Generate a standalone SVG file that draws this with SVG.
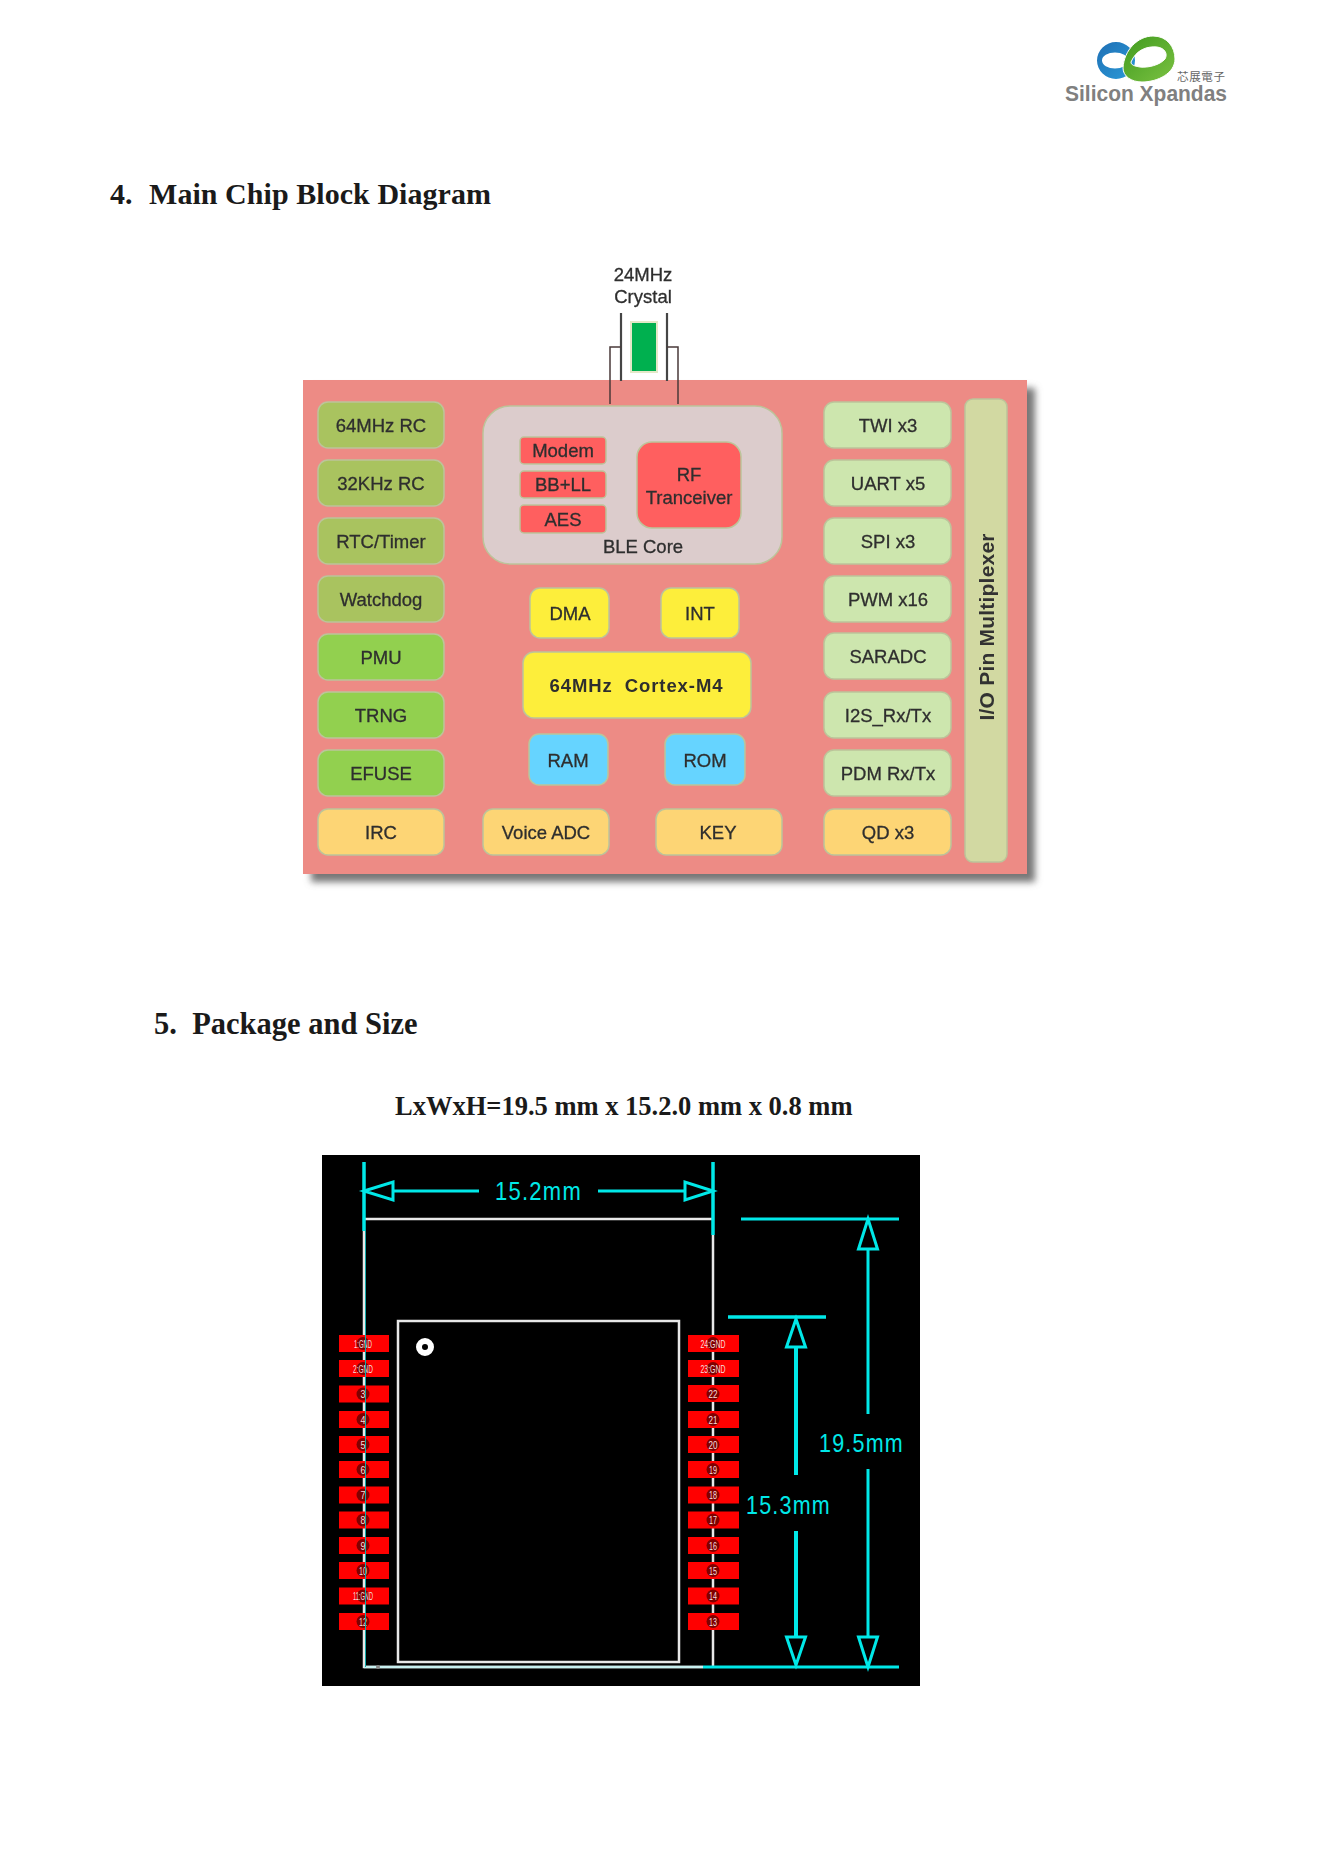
<svg xmlns="http://www.w3.org/2000/svg" width="1324" height="1872" viewBox="0 0 1324 1872">
<style>
text{font-family:"Liberation Sans",Arial,sans-serif}
.h{font-family:"Liberation Serif","Times New Roman",serif;font-weight:700;fill:#1a1a1a}
.b{stroke:#bcc49a;stroke-width:1.5}
.l{font-size:18.5px;fill:#2e2e2e;stroke:#2e2e2e;stroke-width:.3;text-anchor:middle}
.ol{fill:#a9c35f}.gr{fill:#92d050}.or{fill:#fdd574}.lg{fill:#cde6ae}.ye{fill:#fdee3b}.sk{fill:#66d4ff}.rd{fill:#ff5f5f}
.cy{stroke:#00e8e8;fill:none}
.ct{font-size:26px;fill:#00e8e8;text-anchor:middle;letter-spacing:1.5px}
.p{fill:#f00}.c{fill:#800000}
.n{font-size:10.5px;fill:#f4dede;text-anchor:middle}
.w{stroke:#e8e8e8;fill:none;stroke-width:2.5}
</style>
<defs>
<filter id="sh" x="-5%" y="-5%" width="110%" height="110%"><feGaussianBlur stdDeviation="3.5"/></filter>
<filter id="sf" x="-2%" y="-2%" width="104%" height="104%"><feGaussianBlur stdDeviation="0.45"/></filter>
<linearGradient id="bl" x1="0" y1="0" x2="1" y2="1"><stop offset="0" stop-color="#1f6fb5"/><stop offset="1" stop-color="#2a9bd8"/></linearGradient>
<linearGradient id="gn" x1="0" y1="0" x2="1" y2="1"><stop offset="0" stop-color="#3f9a1e"/><stop offset="1" stop-color="#7cc242"/></linearGradient>
</defs>
<rect width="1324" height="1872" fill="#fff"/>

<g id="logo">
<path fill="url(#bl)" fill-rule="evenodd" d="M1097 60.500a19 18.500 0 1 0 38 0a19 18.500 0 1 0-38 0zM1102 60.500a13 8 0 1 1 26 0a13 8 0 1 1-26 0z"/>
<path fill="url(#gn)" stroke="#fff" stroke-width="1" fill-rule="evenodd" d="M1123 68C1124 50 1138 36 1153 36C1167 36 1175 47 1175 59C1175 73 1158 82 1142 82C1131 82 1123 76 1123 68ZM1131 62C1136 50 1147 46 1157 47C1165 48 1168 54 1165 59C1160 65 1148 68 1140 67C1134 66 1131 65 1131 62Z"/>
<text x="1177" y="81" font-size="11.500" fill="#666" style="font-family:'Noto Sans CJK TC',sans-serif" textLength="48">芯展電子</text>
<text x="1065" y="101" font-size="22" font-weight="700" fill="#808080" textLength="162" lengthAdjust="spacingAndGlyphs">Silicon Xpandas</text>
</g>

<text id="heading-4" class="h" font-size="30" y="204"><tspan x="110">4.</tspan><tspan x="149" textLength="342">Main Chip Block Diagram</tspan></text>

<g id="chip" filter="url(#sf)">
<rect x="311" y="388" width="724" height="494" fill="#777" filter="url(#sh)"/>
<rect id="panel" x="303" y="380" width="724" height="494" fill="#ed8b85"/>

<g id="crystal">
<rect x="631" y="322" width="26" height="50" fill="#00b050" stroke="#e4e8c8" stroke-width="2"/>
<path d="M621 313V381M667 313V381" fill="none" stroke="#444" stroke-width="2.200"/>
<text class="l" x="643" y="281">24MHz</text>
<text class="l" x="643" y="303">Crystal</text>
</g>
<g id="connectors"><path d="M621 347H610V404M667 347H678V404" fill="none" stroke="#4a3a3a" stroke-width="1.500"/></g>

<g id="n-64mhz"><rect class="b ol" x="318" y="402" width="126" height="46" rx="10"/><text class="l" x="381" y="432">64MHz RC</text></g>
<g id="n-32khz"><rect class="b ol" x="318" y="460" width="126" height="46" rx="10"/><text class="l" x="381" y="490">32KHz RC</text></g>
<g id="n-rtc"><rect class="b ol" x="318" y="518" width="126" height="46" rx="10"/><text class="l" x="381" y="548">RTC/Timer</text></g>
<g id="n-wdg"><rect class="b ol" x="318" y="576" width="126" height="46" rx="10"/><text class="l" x="381" y="606">Watchdog</text></g>
<g id="n-pmu"><rect class="b gr" x="318" y="634" width="126" height="46" rx="10"/><text class="l" x="381" y="664">PMU</text></g>
<g id="n-trng"><rect class="b gr" x="318" y="692" width="126" height="46" rx="10"/><text class="l" x="381" y="722">TRNG</text></g>
<g id="n-efuse"><rect class="b gr" x="318" y="750" width="126" height="46" rx="10"/><text class="l" x="381" y="780">EFUSE</text></g>
<g id="n-irc"><rect class="b or" x="318" y="809" width="126" height="46" rx="10"/><text class="l" x="381" y="839">IRC</text></g>

<g id="n-ble"><rect x="483" y="406" width="299" height="158" rx="27" fill="#dccccc" class="b"/><text class="l" x="643" y="553">BLE Core</text></g>
<g id="n-modem"><rect class="b rd" x="520" y="437" width="86" height="27" rx="4"/><text class="l" x="563" y="457">Modem</text></g>
<g id="n-bbll"><rect class="b rd" x="520" y="471" width="86" height="27" rx="4"/><text class="l" x="563" y="491">BB+LL</text></g>
<g id="n-aes"><rect class="b rd" x="520" y="505" width="86" height="28" rx="4"/><text class="l" x="563" y="526">AES</text></g>
<g id="n-rf"><rect class="b rd" x="637" y="442" width="104" height="86" rx="15"/><text class="l" x="689" y="481">RF</text><text class="l" x="689" y="504">Tranceiver</text></g>

<g id="n-dma"><rect class="b ye" x="530" y="588" width="79" height="50" rx="10"/><text class="l" x="570" y="620">DMA</text></g>
<g id="n-int"><rect class="b ye" x="661" y="588" width="78" height="50" rx="10"/><text class="l" x="700" y="620">INT</text></g>
<g id="n-cortex"><rect class="b ye" x="523" y="652" width="228" height="66" rx="11"/><text class="l" x="636" y="692" style="white-space:pre;font-weight:700;stroke-width:0" textLength="173" xml:space="preserve">64MHz  Cortex-M4</text></g>
<g id="n-ram"><rect class="b sk" x="529" y="734" width="79" height="51" rx="10"/><text class="l" x="568" y="767">RAM</text></g>
<g id="n-rom"><rect class="b sk" x="665" y="734" width="80" height="51" rx="10"/><text class="l" x="705" y="767">ROM</text></g>
<g id="n-voice"><rect class="b or" x="483" y="809" width="126" height="46" rx="10"/><text class="l" x="546" y="839">Voice ADC</text></g>
<g id="n-key"><rect class="b or" x="656" y="809" width="126" height="46" rx="10"/><text class="l" x="718" y="839">KEY</text></g>

<g id="n-twi"><rect class="b lg" x="824" y="402" width="127" height="46" rx="10"/><text class="l" x="888" y="432">TWI x3</text></g>
<g id="n-uart"><rect class="b lg" x="824" y="460" width="127" height="46" rx="10"/><text class="l" x="888" y="490">UART x5</text></g>
<g id="n-spi"><rect class="b lg" x="824" y="518" width="127" height="46" rx="10"/><text class="l" x="888" y="548">SPI x3</text></g>
<g id="n-pwm"><rect class="b lg" x="824" y="576" width="127" height="46" rx="10"/><text class="l" x="888" y="606">PWM x16</text></g>
<g id="n-saradc"><rect class="b lg" x="824" y="633" width="127" height="46" rx="10"/><text class="l" x="888" y="663">SARADC</text></g>
<g id="n-i2s"><rect class="b lg" x="824" y="692" width="127" height="46" rx="10"/><text class="l" x="888" y="722">I2S_Rx/Tx</text></g>
<g id="n-pdm"><rect class="b lg" x="824" y="750" width="127" height="46" rx="10"/><text class="l" x="888" y="780">PDM Rx/Tx</text></g>
<g id="n-qd"><rect class="b or" x="824" y="809" width="127" height="46" rx="10"/><text class="l" x="888" y="839">QD x3</text></g>
<g id="n-mux"><rect class="b" x="965" y="399" width="42" height="463" rx="8" fill="#d2d9a2"/><text x="994" y="627" font-size="21" font-weight="700" fill="#333" text-anchor="middle" transform="rotate(-90 994 627)" textLength="187">I/O Pin Multiplexer</text></g>
</g>

<text id="heading-5" class="h" x="154" y="1034" font-size="30.500" xml:space="preserve">5.  Package and Size</text>
<text id="size" class="h" x="395" y="1115" font-size="26.500">LxWxH=19.5 mm x 15.2.0 mm x 0.8 mm</text>

<g id="package">
<rect x="322" y="1155" width="598" height="531" fill="#000"/>
<g id="outline">
<path class="w" d="M364 1231V1667H703M364 1219H713M713 1235V1667"/>
<rect class="w" x="398" y="1321" width="281" height="341"/>
<circle cx="425" cy="1347" r="6" fill="none" stroke="#fff" stroke-width="6"/>
</g>
<path d="M364 1667H703" stroke="#c8f0f0" stroke-width="2.500" fill="none"/>
<circle cx="378" cy="1667" r="2" fill="#888"/>

<g id="pads-left">
<g id="p1"><rect class="p" x="339" y="1335" width="50" height="17"/><circle class="c" cx="363" cy="1343.500" r="6.500"/><text class="n" x="363" y="1347.500" textLength="18" lengthAdjust="spacingAndGlyphs">1:GND</text></g>
<g id="p2"><rect class="p" x="339" y="1360" width="50" height="17"/><circle class="c" cx="363" cy="1368.500" r="6.500"/><text class="n" x="363" y="1372.500" textLength="20" lengthAdjust="spacingAndGlyphs">2:GND</text></g>
<g id="p3"><rect class="p" x="339" y="1385.500" width="50" height="17"/><circle class="c" cx="363" cy="1394" r="6.500"/><text class="n" x="363" y="1398" textLength="5" lengthAdjust="spacingAndGlyphs">3</text></g>
<g id="p4"><rect class="p" x="339" y="1411" width="50" height="17"/><circle class="c" cx="363" cy="1419.500" r="6.500"/><text class="n" x="363" y="1423.500" textLength="5" lengthAdjust="spacingAndGlyphs">4</text></g>
<g id="p5"><rect class="p" x="339" y="1436" width="50" height="17"/><circle class="c" cx="363" cy="1444.500" r="6.500"/><text class="n" x="363" y="1448.500" textLength="5" lengthAdjust="spacingAndGlyphs">5</text></g>
<g id="p6"><rect class="p" x="339" y="1461" width="50" height="17"/><circle class="c" cx="363" cy="1469.500" r="6.500"/><text class="n" x="363" y="1473.500" textLength="5" lengthAdjust="spacingAndGlyphs">6</text></g>
<g id="p7"><rect class="p" x="339" y="1486.500" width="50" height="17"/><circle class="c" cx="363" cy="1495" r="6.500"/><text class="n" x="363" y="1499" textLength="5" lengthAdjust="spacingAndGlyphs">7</text></g>
<g id="p8"><rect class="p" x="339" y="1511.500" width="50" height="17"/><circle class="c" cx="363" cy="1520" r="6.500"/><text class="n" x="363" y="1524" textLength="5" lengthAdjust="spacingAndGlyphs">8</text></g>
<g id="p9"><rect class="p" x="339" y="1537" width="50" height="17"/><circle class="c" cx="363" cy="1545.500" r="6.500"/><text class="n" x="363" y="1549.500" textLength="5" lengthAdjust="spacingAndGlyphs">9</text></g>
<g id="p10"><rect class="p" x="339" y="1562" width="50" height="17"/><circle class="c" cx="363" cy="1570.500" r="6.500"/><text class="n" x="363" y="1574.500" textLength="8" lengthAdjust="spacingAndGlyphs">10</text></g>
<g id="p11"><rect class="p" x="339" y="1587.500" width="50" height="17"/><circle class="c" cx="363" cy="1596" r="6.500"/><text class="n" x="363" y="1600" textLength="20" lengthAdjust="spacingAndGlyphs">11:GND</text></g>
<g id="p12"><rect class="p" x="339" y="1613" width="50" height="17"/><circle class="c" cx="363" cy="1621.500" r="6.500"/><text class="n" x="363" y="1625.500" textLength="8" lengthAdjust="spacingAndGlyphs">12</text></g>
</g>
<g id="pads-right">
<g id="p24"><rect class="p" x="688" y="1335" width="51" height="17"/><circle class="c" cx="713" cy="1343.500" r="6.500"/><text class="n" x="713" y="1347.500" textLength="25" lengthAdjust="spacingAndGlyphs">24:GND</text></g>
<g id="p23"><rect class="p" x="688" y="1360" width="51" height="17"/><circle class="c" cx="713" cy="1368.500" r="6.500"/><text class="n" x="713" y="1372.500" textLength="25" lengthAdjust="spacingAndGlyphs">23:GND</text></g>
<g id="p22"><rect class="p" x="688" y="1385" width="51" height="17"/><circle class="c" cx="713" cy="1394" r="6.500"/><text class="n" x="713" y="1398" textLength="9" lengthAdjust="spacingAndGlyphs">22</text></g>
<g id="p21"><rect class="p" x="688" y="1411" width="51" height="17"/><circle class="c" cx="713" cy="1419.500" r="6.500"/><text class="n" x="713" y="1423.500" textLength="9" lengthAdjust="spacingAndGlyphs">21</text></g>
<g id="p20"><rect class="p" x="688" y="1436" width="51" height="17"/><circle class="c" cx="713" cy="1444.500" r="6.500"/><text class="n" x="713" y="1448.500" textLength="9" lengthAdjust="spacingAndGlyphs">20</text></g>
<g id="p19"><rect class="p" x="688" y="1461" width="51" height="17"/><circle class="c" cx="713" cy="1469.500" r="6.500"/><text class="n" x="713" y="1473.500" textLength="8" lengthAdjust="spacingAndGlyphs">19</text></g>
<g id="p18"><rect class="p" x="688" y="1486.500" width="51" height="17"/><circle class="c" cx="713" cy="1495" r="6.500"/><text class="n" x="713" y="1499" textLength="8" lengthAdjust="spacingAndGlyphs">18</text></g>
<g id="p17"><rect class="p" x="688" y="1511.500" width="51" height="17"/><circle class="c" cx="713" cy="1520" r="6.500"/><text class="n" x="713" y="1524" textLength="8" lengthAdjust="spacingAndGlyphs">17</text></g>
<g id="p16"><rect class="p" x="688" y="1537" width="51" height="17"/><circle class="c" cx="713" cy="1545.500" r="6.500"/><text class="n" x="713" y="1549.500" textLength="8" lengthAdjust="spacingAndGlyphs">16</text></g>
<g id="p15"><rect class="p" x="688" y="1562" width="51" height="17"/><circle class="c" cx="713" cy="1570.500" r="6.500"/><text class="n" x="713" y="1574.500" textLength="8" lengthAdjust="spacingAndGlyphs">15</text></g>
<g id="p14"><rect class="p" x="688" y="1587.500" width="51" height="17"/><circle class="c" cx="713" cy="1596" r="6.500"/><text class="n" x="713" y="1600" textLength="8" lengthAdjust="spacingAndGlyphs">14</text></g>
<g id="p13"><rect class="p" x="688" y="1613" width="51" height="17"/><circle class="c" cx="713" cy="1621.500" r="6.500"/><text class="n" x="713" y="1625.500" textLength="8" lengthAdjust="spacingAndGlyphs">13</text></g>
</g>
<path d="M365.500 1231V1667" stroke="#1aa" stroke-width="1" fill="none"/>

<g id="dimensions">
<path class="cy" stroke-width="3.500" d="M364 1162V1231M713 1162V1235"/>
<path class="cy" stroke-width="3" d="M364 1191L393 1182V1200ZM393 1191H479M598 1191H685M713 1191L685 1182V1200Z"/>
<path class="cy" stroke-width="3" d="M741 1219H899M703 1667H899"/>
<path class="cy" stroke-width="3" d="M868 1219L877.500 1249H858.500ZM868 1249V1414M868 1469V1637M868 1667L877.500 1637H858.500Z"/>
<path class="cy" stroke-width="3.500" d="M728 1317H826"/>
<path class="cy" stroke-width="3" d="M796 1319L805.500 1347H786.500ZM796 1665L805.500 1637H786.500Z"/>
<path class="cy" stroke-width="4" d="M796 1347V1475M796 1531V1637"/>
<text class="ct" x="538.500" y="1200" textLength="87" lengthAdjust="spacingAndGlyphs">15.2mm</text>
<text class="ct" x="861.500" y="1452" textLength="85" lengthAdjust="spacingAndGlyphs">19.5mm</text>
<text class="ct" x="788.500" y="1514" textLength="85" lengthAdjust="spacingAndGlyphs">15.3mm</text>
</g>
</g>
</svg>
